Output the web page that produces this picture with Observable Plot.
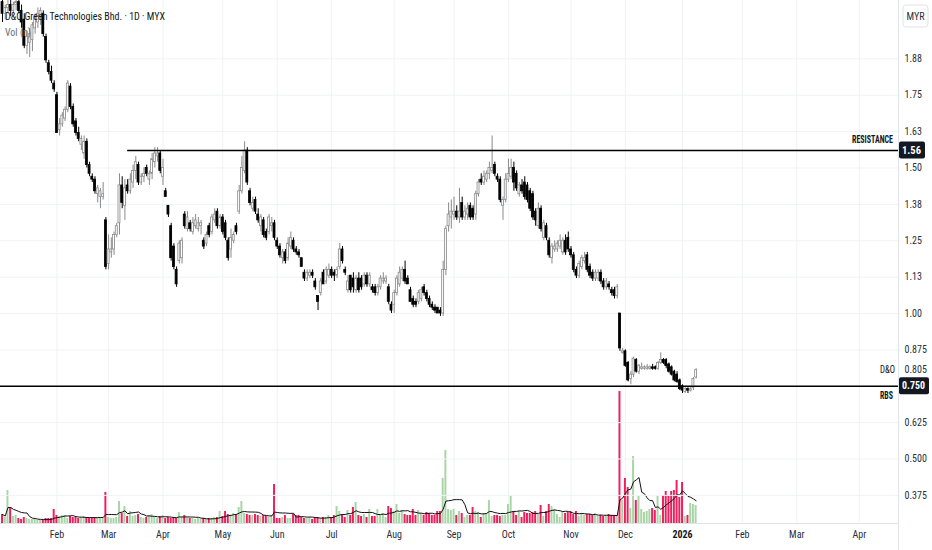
<!DOCTYPE html>
<html><head><meta charset="utf-8">
<script src="https://cdn.jsdelivr.net/npm/d3@7"></script>
<script src="https://cdn.jsdelivr.net/npm/@observablehq/plot@0.6"></script>
<style>
body{margin:0;background:#fff;}
#wrap{position:relative;width:932px;height:550px;background:#fff;}
#wrap svg{position:absolute;left:0;top:0;}
</style></head><body><div id="wrap"></div>
<script>
const open = [
2.07,2.03,2.05,2.06,2.04,2.06,2.07,2.04,2.01,1.92,
1.93,1.94,1.98,2.00,2.02,2.03,1.95,1.86,1.83,1.79,
1.75,1.63,1.65,1.67,1.70,1.78,1.71,1.66,1.62,1.58,
1.55,1.59,1.51,1.47,1.46,1.41,1.40,1.40,1.32,1.17,
1.21,1.22,1.27,1.31,1.44,1.37,1.44,1.42,1.45,1.49,
1.51,1.45,1.47,1.50,1.46,1.48,1.52,1.54,1.55,1.47,
1.42,1.37,1.30,1.23,1.15,1.18,1.19,1.34,1.29,1.31,
1.28,1.30,1.29,1.30,1.25,1.24,1.30,1.28,1.32,1.35,
1.30,1.33,1.31,1.25,1.22,1.25,1.30,1.35,1.42,1.49,
1.56,1.42,1.36,1.39,1.34,1.30,1.32,1.28,1.28,1.30,
1.31,1.25,1.23,1.19,1.21,1.19,1.23,1.25,1.22,1.21,
1.19,1.14,1.12,1.13,1.14,1.11,1.06,1.07,1.14,1.11,
1.13,1.15,1.14,1.13,1.16,1.22,1.15,1.08,1.13,1.12,
1.08,1.12,1.12,1.10,1.13,1.10,1.09,1.09,1.07,1.09,
1.11,1.11,1.09,1.03,1.03,1.07,1.10,1.12,1.15,1.12,
1.08,1.05,1.04,1.04,1.05,1.09,1.07,1.05,1.03,1.02,
1.02,1.01,1.00,1.15,1.30,1.33,1.34,1.35,1.33,1.38,
1.33,1.34,1.37,1.36,1.34,1.41,1.46,1.45,1.46,1.48,
1.49,1.51,1.47,1.46,1.37,1.39,1.46,1.47,1.50,1.48,
1.41,1.44,1.45,1.44,1.42,1.41,1.35,1.30,1.36,1.26,
1.30,1.25,1.19,1.22,1.22,1.23,1.21,1.25,1.26,1.22,
1.20,1.15,1.13,1.16,1.18,1.20,1.16,1.14,1.12,1.12,
1.14,1.11,1.09,1.10,1.08,1.08,1.06,1.00,0.865,0.87,
0.83,0.775,0.79,0.84,0.80,0.81,0.81,0.81,0.81,0.815,
0.815,0.81,0.83,0.84,0.84,0.825,0.815,0.80,0.79,0.77,
0.75,0.73,0.74,0.735,0.745,0.78];
const high = [
2.09,2.06,2.08,2.08,2.07,2.09,2.08,2.06,2.03,1.97,
1.98,2.00,2.03,2.05,2.05,2.04,1.96,1.87,1.85,1.80,
1.76,1.67,1.69,1.71,1.80,1.79,1.72,1.67,1.64,1.61,
1.61,1.60,1.52,1.48,1.47,1.44,1.43,1.45,1.33,1.27,
1.26,1.28,1.31,1.48,1.47,1.46,1.46,1.48,1.51,1.54,
1.52,1.48,1.50,1.51,1.49,1.55,1.57,1.57,1.56,1.53,
1.43,1.37,1.31,1.24,1.16,1.25,1.26,1.35,1.35,1.32,
1.33,1.34,1.33,1.32,1.26,1.28,1.31,1.34,1.36,1.36,
1.34,1.34,1.32,1.26,1.29,1.28,1.31,1.44,1.54,1.59,
1.57,1.43,1.40,1.40,1.36,1.34,1.33,1.29,1.34,1.33,
1.32,1.26,1.24,1.22,1.22,1.26,1.28,1.26,1.23,1.22,
1.19,1.15,1.15,1.15,1.15,1.12,1.06,1.12,1.15,1.16,
1.17,1.16,1.15,1.16,1.24,1.23,1.16,1.13,1.13,1.14,
1.13,1.14,1.13,1.14,1.14,1.14,1.10,1.10,1.10,1.13,
1.14,1.13,1.10,1.04,1.08,1.13,1.16,1.16,1.18,1.13,
1.09,1.06,1.05,1.08,1.09,1.10,1.08,1.06,1.04,1.03,
1.02,1.02,1.18,1.30,1.38,1.39,1.40,1.37,1.43,1.40,
1.37,1.38,1.38,1.37,1.42,1.46,1.48,1.49,1.49,1.52,
1.61,1.52,1.48,1.47,1.40,1.48,1.53,1.53,1.52,1.49,
1.45,1.46,1.47,1.45,1.43,1.42,1.36,1.38,1.37,1.32,
1.31,1.26,1.24,1.25,1.25,1.27,1.26,1.27,1.28,1.23,
1.21,1.16,1.18,1.20,1.21,1.21,1.17,1.15,1.15,1.15,
1.15,1.12,1.12,1.11,1.09,1.09,1.10,1.00,0.88,0.875,
0.835,0.80,0.85,0.845,0.825,0.83,0.82,0.825,0.82,0.825,
0.82,0.835,0.865,0.845,0.845,0.83,0.82,0.805,0.80,0.775,
0.755,0.745,0.745,0.745,0.78,0.81];
const low = [
2.00,2.01,2.03,2.02,2.03,2.04,2.03,1.98,1.91,1.89,
1.88,1.90,1.96,1.98,1.99,1.95,1.86,1.82,1.79,1.76,
1.62,1.61,1.64,1.66,1.69,1.70,1.64,1.61,1.59,1.56,
1.53,1.50,1.47,1.45,1.41,1.38,1.36,1.39,1.15,1.15,
1.19,1.20,1.26,1.27,1.36,1.32,1.41,1.41,1.43,1.46,
1.44,1.44,1.45,1.47,1.44,1.46,1.50,1.52,1.48,1.44,
1.40,1.33,1.18,1.15,1.09,1.17,1.17,1.29,1.28,1.28,
1.27,1.29,1.28,1.27,1.22,1.23,1.26,1.27,1.31,1.29,
1.29,1.27,1.25,1.18,1.19,1.24,1.27,1.34,1.41,1.48,
1.44,1.37,1.35,1.34,1.31,1.28,1.26,1.25,1.27,1.28,
1.25,1.22,1.19,1.17,1.17,1.18,1.22,1.21,1.20,1.19,
1.16,1.11,1.11,1.12,1.12,1.08,1.01,1.06,1.10,1.10,
1.12,1.12,1.11,1.12,1.15,1.17,1.13,1.07,1.07,1.07,
1.07,1.07,1.08,1.09,1.09,1.09,1.07,1.06,1.06,1.08,
1.10,1.10,1.03,1.00,1.00,1.06,1.09,1.11,1.10,1.10,
1.04,1.02,1.02,1.03,1.04,1.06,1.04,1.02,1.01,1.00,
1.00,0.99,0.99,1.13,1.28,1.29,1.32,1.32,1.31,1.32,
1.32,1.32,1.32,1.32,1.32,1.40,1.44,1.44,1.45,1.46,
1.48,1.47,1.45,1.38,1.32,1.38,1.45,1.46,1.42,1.42,
1.40,1.41,1.39,1.38,1.35,1.32,1.30,1.29,1.28,1.25,
1.25,1.19,1.17,1.21,1.21,1.22,1.20,1.20,1.21,1.19,
1.14,1.12,1.12,1.15,1.17,1.14,1.12,1.11,1.11,1.11,
1.10,1.08,1.08,1.08,1.06,1.05,1.05,0.87,0.86,0.815,
0.765,0.755,0.78,0.795,0.79,0.805,0.805,0.805,0.805,0.805,
0.805,0.805,0.825,0.825,0.81,0.795,0.785,0.765,0.76,0.735,
0.725,0.725,0.725,0.73,0.735,0.775];
const close = [
2.03,2.05,2.06,2.04,2.06,2.07,2.04,2.00,1.92,1.95,
1.96,1.99,2.02,2.03,2.04,1.96,1.87,1.83,1.80,1.77,
1.62,1.65,1.68,1.70,1.79,1.71,1.65,1.62,1.60,1.60,
1.59,1.51,1.48,1.46,1.42,1.43,1.42,1.41,1.16,1.22,
1.22,1.27,1.30,1.44,1.38,1.43,1.42,1.46,1.49,1.52,
1.45,1.47,1.48,1.48,1.48,1.53,1.55,1.55,1.49,1.50,
1.40,1.34,1.19,1.16,1.10,1.24,1.25,1.30,1.33,1.29,
1.31,1.32,1.31,1.31,1.23,1.27,1.27,1.33,1.34,1.30,
1.33,1.28,1.26,1.19,1.26,1.27,1.28,1.42,1.50,1.56,
1.45,1.38,1.38,1.35,1.32,1.33,1.27,1.26,1.33,1.31,
1.26,1.23,1.20,1.21,1.18,1.24,1.26,1.22,1.21,1.20,
1.16,1.12,1.14,1.14,1.13,1.09,1.04,1.11,1.10,1.15,
1.15,1.13,1.13,1.15,1.22,1.18,1.14,1.11,1.08,1.09,
1.12,1.08,1.09,1.13,1.10,1.13,1.08,1.07,1.09,1.12,
1.12,1.12,1.04,1.01,1.07,1.12,1.14,1.15,1.11,1.10,
1.04,1.03,1.03,1.07,1.08,1.07,1.05,1.03,1.02,1.01,
1.00,1.00,1.15,1.29,1.34,1.35,1.35,1.33,1.35,1.33,
1.35,1.36,1.33,1.33,1.41,1.45,1.45,1.47,1.48,1.50,
1.50,1.48,1.46,1.39,1.39,1.46,1.48,1.50,1.45,1.43,
1.44,1.42,1.40,1.39,1.36,1.33,1.32,1.36,1.29,1.31,
1.26,1.20,1.23,1.23,1.24,1.25,1.25,1.21,1.22,1.20,
1.15,1.13,1.17,1.19,1.19,1.15,1.13,1.12,1.14,1.14,
1.11,1.09,1.11,1.09,1.07,1.06,1.09,0.88,0.87,0.82,
0.77,0.79,0.845,0.80,0.82,0.815,0.815,0.815,0.815,0.81,
0.81,0.83,0.84,0.83,0.82,0.80,0.79,0.77,0.765,0.74,
0.735,0.74,0.735,0.74,0.775,0.805];
// volume, in 100k shares (estimated)
const volume = [
9,6,33,16,7,8,5,4,6,5,
4,4,4,3,3,3,5,5,5,14,
8,7,8,8,5,7,6,6,5,6,
7,6,5,6,6,6,6,6,31,6,
5,5,6,22,10,17,7,12,7,8,
9,6,5,6,8,9,6,5,7,8,
5,6,5,6,5,11,6,8,6,5,
5,4,5,4,5,4,5,5,6,6,
12,7,12,9,8,10,9,16,22,10,
9,8,8,9,8,7,8,7,6,8,
39,5,5,6,8,5,5,9,8,8,
6,5,5,6,4,6,6,5,6,6,
8,6,8,17,12,9,6,13,8,16,
21,8,7,9,6,14,7,7,14,8,
10,6,17,15,12,19,10,13,9,8,
8,14,8,13,10,8,11,10,8,8,
12,12,45,73,14,13,14,8,12,10,
6,8,8,16,12,11,6,10,10,23,
7,8,8,7,8,8,19,27,12,8,
12,6,11,10,10,11,12,9,18,7,
12,19,17,14,9,6,11,10,11,12,
9,12,7,9,8,9,9,8,10,7,
8,7,8,9,8,8,8,132,23,45,
36,15,67,23,27,14,11,12,14,15,
13,27,8,28,32,27,32,33,43,26,
41,7,8,20,19,18];

const monthTicks  = [20,39,59,81,101,121,144,166,186,209,229,250,272,292,315];
const monthLabels = ["Feb","Mar","Apr","May","Jun","Jul","Aug","Sep","Oct","Nov","Dec","2026","Feb","Mar","Apr"];
const yearTick = 250;
const priceTicks = [0.375,0.5,0.625,0.75,0.875,1.0,1.125,1.25,1.375,1.5,1.625,1.75,1.875];
const resistanceLevel = 1.56, resistanceStartBar = 46;
const supportLevel = 0.75;
const lastPrice = 0.805;
const titleText = "D&O Green Technologies Bhd. · 1D · MYX";
const volLegend = "Vol (n)";
const currency = "MYR";

const bars = close.map((c, i) => ({i, o: open[i], h: high[i], l: low[i], c, v: volume[i], up: c >= open[i]}));

const W = 932, H = 550, mR = 34, mB = 27;
const xDomain = [-0.74, 329.4];
const FONT = "'Liberation Sans Narrow','Roboto Condensed','Liberation Sans',Roboto,sans-serif";
const UP_C = "#8a8a8a", DN_C = "#000000";
const VUP = "#a8d5a6", VDN = "#ee1f5c";
const GRID = "#f0f2f5", AXC = "#2a2e39";
const fmt = p => p >= 1 ? p.toFixed(2) : p.toFixed(3);
const label = t => monthLabels[monthTicks.indexOf(t)];
const hw = 0.36;

const volPlot = Plot.plot({
  width: W, height: H, marginTop: 0, marginRight: mR, marginBottom: mB, marginLeft: 0,
  x: {domain: xDomain, axis: null},
  y: {domain: [0, 128], range: [H - mB, H - mB - 128], axis: null},
  color: {type: "identity"},
  style: {background: "transparent"},
  marks: [
    Plot.gridX(monthTicks, {stroke: GRID, strokeOpacity: 1}),
    Plot.rect(bars, {x1: d => d.i - hw, x2: d => d.i + hw, y1: 0, y2: "v", fill: d => d.up ? VUP : VDN}),
    Plot.lineY(bars, Plot.windowY({k: 8, anchor: "end", reduce: "mean"}, {x: "i", y: "v", stroke: "#111", strokeWidth: 1}))
  ]
});

const pricePlot = Plot.plot({
  width: W, height: H, marginTop: 0, marginRight: mR, marginBottom: mB, marginLeft: 0,
  x: {domain: xDomain, axis: null},
  y: {domain: [0.27835, 2.0756], axis: null},
  color: {type: "identity"},
  style: {background: "transparent", fontFamily: FONT, fontSize: "10px", color: AXC},
  marks: [
    Plot.gridY(priceTicks, {stroke: GRID, strokeOpacity: 1}),
    Plot.axisY(priceTicks.filter(p => p !== supportLevel), {anchor: "right", label: null, tickSize: 0, tickPadding: 6, tickFormat: fmt, fill: AXC}),
    Plot.axisX(monthTicks.filter(t => t !== yearTick), {anchor: "bottom", label: null, tickSize: 0, tickPadding: 7, tickFormat: label, fill: AXC}),
    Plot.axisX([yearTick], {anchor: "bottom", label: null, tickSize: 0, tickPadding: 7, tickFormat: label, fontWeight: "bold", fill: "#131722"}),
    Plot.ruleX(bars, {x: "i", y1: "l", y2: "h", stroke: d => d.up ? UP_C : DN_C, strokeWidth: 1, clip: true}),
    Plot.rect(bars, {x1: d => d.i - hw, x2: d => d.i + hw, y1: "o", y2: "c",
      fill: d => d.up ? "#ffffff" : DN_C, stroke: d => d.up ? UP_C : DN_C, strokeWidth: 0.8, clip: true}),
    Plot.ruleY([resistanceLevel], {x1: resistanceStartBar, x2: xDomain[1], stroke: "#000", strokeWidth: 1.6}),
    Plot.ruleY([supportLevel], {x1: xDomain[0], x2: xDomain[1], stroke: "#000", strokeWidth: 1.6}),
    Plot.text([lastPrice], {y: d => d, x: xDomain[1], text: d => fmt(d), textAnchor: "start", dx: 6, fill: AXC})
  ]
});

const wrap = document.getElementById("wrap");
wrap.appendChild(volPlot);
wrap.appendChild(pricePlot);

const svg = d3.select(pricePlot);
const ys = pricePlot.scale("y");
const xR = W - mR;

// pane separators
svg.append("line").attr("x1", xR + 0.5).attr("x2", xR + 0.5).attr("y1", 0).attr("y2", H).attr("stroke", "#e0e3eb");
svg.append("line").attr("x1", 0).attr("x2", xR).attr("y1", H - mB + 0.5).attr("y2", H - mB + 0.5).attr("stroke", "#e0e3eb");

function fitText(g, x, y, txt, len, opts) {
  const t = g.append("text").attr("x", x).attr("y", y).attr("dy", "0.35em")
    .attr("text-anchor", "start").text(txt);
  for (const k in opts) t.attr(k, opts[k]);
  if (len) t.attr("textLength", len).attr("lengthAdjust", "spacingAndGlyphs");
  return t;
}

// level labels
const lab = svg.append("g").attr("font-family", FONT);
fitText(lab, xR - 46, ys.apply(resistanceLevel) - 11, "RESISTANCE", 41, {"font-size": "10px", "font-weight": "bold", fill: "#131722"});
fitText(lab, xR - 18, ys.apply(supportLevel) + 10, "RBS", 13, {"font-size": "10px", "font-weight": "bold", fill: "#131722"});
fitText(lab, xR - 18, ys.apply(lastPrice), "D&O", 15, {"font-size": "10px", fill: "#131722"});

// price tags
function tag(v, txt, w) {
  const y = ys.apply(v);
  const g = svg.append("g").attr("font-family", FONT).attr("font-size", "10.5px");
  g.append("rect").attr("fill", "#131722").attr("rx", 2)
    .attr("x", xR + 1).attr("y", y - 8.5).attr("width", w).attr("height", 17);
  fitText(g, xR + 4, y, txt, w - 7, {fill: "#fff", "font-weight": "bold"});
}
tag(resistanceLevel, resistanceLevel.toFixed(2), 26);
tag(supportLevel, supportLevel.toFixed(3), 30);

// currency box
const cg = svg.append("g").attr("font-family", FONT).attr("font-size", "10px");
cg.append("rect").attr("x", xR + 5).attr("y", 5).attr("width", 25).attr("height", 22).attr("rx", 3)
  .attr("fill", "#fff").attr("stroke", "#e0e3eb");
cg.append("text").attr("x", xR + 17.5).attr("y", 16).attr("dy", "0.35em").attr("text-anchor", "middle")
  .attr("fill", AXC).text(currency);

// legend
const lg = svg.append("g").attr("font-family", FONT);
fitText(lg, 5, 16, titleText, 160, {"font-size": "11.5px", fill: "#131722"});
fitText(lg, 5, 32, volLegend, 26, {"font-size": "10.5px", fill: "#6a6d78"});
</script></body></html>
